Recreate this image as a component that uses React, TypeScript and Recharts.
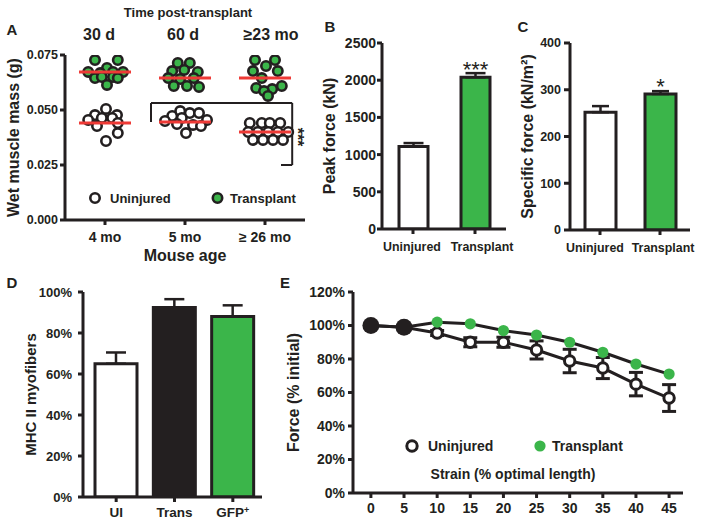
import React from "react";
import {
  ScatterChart,
  Scatter,
  BarChart,
  Bar,
  LineChart,
  Line,
  XAxis,
  YAxis,
  ErrorBar,
  Cell,
  LabelList,
  ReferenceLine,
} from "recharts";

const INK = "#231f20";
const GREEN = "#3bb54a";
const RED = "#ee3a36";
const FONT = '"Liberation Sans", Arial, Helvetica, sans-serif';

// ---- A: wet muscle mass (g), each dot as [jitter, mass]
const ageLabels = ["4 mo", "5 mo", "≥ 26 mo"];
const postLabels = ["30 d", "60 d", "≥23 mo"];

const trans30 = [
  [-0.125, 0.0727], [0.16, 0.0727], [0.025, 0.0691], [-0.21, 0.0673], [-0.06, 0.0668], [0.1, 0.0673],
  [0.225, 0.0673], [-0.125, 0.0645], [-0.04, 0.065], [0.1, 0.065], [0.16, 0.0645], [0.025, 0.0614],
];
const uninj30 = [
  [-0.125, 0.0477], [0.0125, 0.0505], [0.15, 0.0477], [-0.21, 0.0455], [-0.04, 0.0464], [0.09, 0.0464],
  [0.16, 0.0441], [-0.1, 0.0427], [0.16, 0.0395], [0.0125, 0.0359],
];
const trans60 = [
  [-0.09, 0.0714], [0.06, 0.0714], [-0.16, 0.0677], [-0.01, 0.0682], [0.16, 0.0673], [-0.21, 0.0645],
  [-0.06, 0.0641], [0.11, 0.0645], [-0.14, 0.0609], [0.025, 0.0609], [0.175, 0.0605],
];
const uninj60 = [
  [-0.16, 0.0473], [-0.06, 0.0495], [0.06, 0.0486], [0.175, 0.0486], [-0.25, 0.045], [-0.04, 0.0464],
  [0.275, 0.0455], [-0.1, 0.0436], [0.1, 0.0432], [0.2, 0.0427], [0.0125, 0.0395],
];
const trans23 = [
  [-0.125, 0.0727], [0.125, 0.0727], [0.0125, 0.07], [-0.15, 0.0677], [0.16, 0.0677], [-0.04, 0.0645],
  [-0.11, 0.06], [0.21, 0.0609], [0.09, 0.0595], [-0.0125, 0.0586], [0.0375, 0.0564],
];
const uninj23 = [
  [-0.19, 0.0441], [-0.04, 0.0441], [0.06, 0.0441], [0.19, 0.0441],
  [-0.21, 0.04], [-0.09, 0.04], [0.04, 0.04], [0.16, 0.04], [0.29, 0.04],
  [-0.15, 0.0364], [-0.025, 0.0364], [0.1, 0.0364], [0.225, 0.0364],
];
const medianUninj = [0.0441, 0.0445, 0.04];
const medianTrans = [0.0673, 0.0645, 0.0645];

// ---- B / C: force
const forceGroups = ["Uninjured", "Transplant"];
const peakForce = [1110, 2040];
const peakErr = [45, 55];
const peakSig = ["", "***"];
const specForce = [252, 291];
const specErr = [13, 6];
const specSig = ["", "*"];

// ---- D: MHC II myofibers (%)
const mhcGroups = ["UI", "Trans", "GFP+"];
const mhc = [65, 92.5, 88];
const mhcErr = [5.5, 4, 5.5];

// ---- E: force (% initial) vs strain
const strain = [0, 5, 10, 15, 20, 25, 30, 35, 40, 45];
const forceUninj = [100, 99, 95.5, 90, 90, 85.4, 78.8, 74.6, 65, 56.7];
const forceUninjErr = [0, 0, 1.5, 2.7, 3, 5.4, 7, 6.3, 7, 8];
const forceTrans = [100, 99, 102, 101, 97, 94.3, 90, 84, 77, 71];

const toPoints = (groups: number[][][]) =>
  groups.flatMap((g, gi) => g.map(([off, m]) => ({ x: gi + 0.5 + off, y: m })));

const uninjPts = toPoints([uninj30, uninj60, uninj23]);
const transPts = toPoints([trans30, trans60, trans23]);
const medianPts = [...medianUninj, ...medianTrans].map((m, i) => ({ x: (i % 3) + 0.5, y: m }));

const bracket = [
  [{ x: 1.075, y: 0.0445 }, { x: 1.075, y: 0.0532 }],
  [{ x: 1.075, y: 0.0532 }, { x: 2.84, y: 0.0532 }],
  [{ x: 2.84, y: 0.0532 }, { x: 2.84, y: 0.025 }],
  [{ x: 2.84, y: 0.025 }, { x: 2.7, y: 0.025 }],
];

const peakData = forceGroups.map((name, i) => ({ name, value: peakForce[i], err: [0, peakErr[i]], sig: peakSig[i] }));
const specData = forceGroups.map((name, i) => ({ name, value: specForce[i], err: [0, specErr[i]], sig: specSig[i] }));
const mhcData = mhcGroups.map((name, i) => ({ name, value: mhc[i], err: [0, mhcErr[i]] }));
const strainData = strain.map((s, i) => ({
  strain: s,
  uninj: forceUninj[i],
  err: forceUninjErr[i],
  trans: forceTrans[i],
}));

const axisLine = { stroke: INK, strokeWidth: 3 };
const tickLine = { stroke: INK, strokeWidth: 3 };
const tick = (size: number) => ({ fill: INK, fontSize: size, fontWeight: 700 });
const yLabel = (value: string, offset: number, size = 16) => ({
  value,
  angle: -90,
  position: "insideLeft" as const,
  offset,
  style: { textAnchor: "middle", fill: INK, fontSize: size, fontWeight: 700 },
});

const openDot = (p: any) => (
  <circle key={`u${p.index}`} cx={p.cx} cy={p.cy} r={4.7} fill="#fff" stroke={INK} strokeWidth={2.6} />
);
const greenDot = (p: any) => (
  <circle key={`t${p.index}`} cx={p.cx} cy={p.cy} r={4.7} fill={GREEN} stroke={INK} strokeWidth={2.6} />
);
const medianLine = (p: any) => (
  <line key={`m${p.index}`} x1={p.cx - 26} x2={p.cx + 26} y1={p.cy} y2={p.cy} stroke={RED} strokeWidth={3} />
);

const strainOpenDot = (p: any) => (
  <circle key={`su${p.index}`} cx={p.cx} cy={p.cy} r={5.2} fill="#fff" stroke={INK} strokeWidth={3} />
);
const strainTransDot = (p: any) => {
  // where both groups sit on the same value the marker is black
  const overlap = p.payload.trans === p.payload.uninj;
  return (
    <circle
      key={`st${p.index}`}
      cx={p.cx}
      cy={p.cy}
      r={overlap ? 8.5 : 5.6}
      fill={overlap ? INK : GREEN}
    />
  );
};

// group labels under the bars sit a little apart from their ticks
const spreadTick = (shift: number[]) => (p: any) => (
  <text
    x={p.x + (shift[p.index] ?? 0)}
    y={p.y}
    dy="0.71em"
    textAnchor="middle"
    fill={INK}
    fontSize={12.4}
    fontWeight={700}
  >
    {p.payload.value}
  </text>
);

const mhcTick = (p: any) => {
  const label: string = p.payload.value;
  const sup = label.endsWith("+");
  return (
    <text x={p.x} y={p.y} dy="0.71em" textAnchor="middle" fill={INK} fontSize={13.5} fontWeight={700}>
      {sup ? label.slice(0, -1) : label}
      {sup && (
        <tspan dy="-0.45em" fontSize={9}>
          +
        </tspan>
      )}
    </text>
  );
};

function PanelA() {
  return (
    <ScatterChart width={320} height={270} margin={{ top: 55, right: 15, bottom: 5, left: 0 }}>
      <XAxis
        type="number"
        dataKey="x"
        domain={[0, 3]}
        allowDataOverflow
        ticks={[0.5, 1.5, 2.5]}
        interval={0}
        tickFormatter={(v) => ageLabels[Math.floor(v)]}
        height={45}
        axisLine={axisLine}
        tickLine={tickLine}
        tickSize={5}
        tickMargin={7}
        tick={tick(14)}
        label={{ value: "Mouse age", position: "insideBottom", offset: 4, style: { fill: INK, fontSize: 16, fontWeight: 700 } }}
      />
      <YAxis
        type="number"
        dataKey="y"
        domain={[0, 0.075]}
        allowDataOverflow
        ticks={[0, 0.025, 0.05, 0.075]}
        interval={0}
        tickFormatter={(v) => v.toFixed(3)}
        width={65}
        axisLine={axisLine}
        tickLine={tickLine}
        tickSize={5}
        tickMargin={2}
        tick={tick(12.5)}
        label={yLabel("Wet muscle mass (g)", 13)}
      />
      {bracket.map((seg, i) => (
        <ReferenceLine key={i} segment={seg} stroke={INK} strokeWidth={2} />
      ))}
      <Scatter data={uninjPts} shape={openDot} isAnimationActive={false} />
      <Scatter data={transPts} shape={greenDot} isAnimationActive={false} />
      <Scatter data={medianPts} shape={medianLine} isAnimationActive={false} />
    </ScatterChart>
  );
}

function ForceBars(props: {
  data: any[];
  width: number;
  yWidth: number;
  right: number;
  xHeight: number;
  domain: number[];
  ticks: number[];
  label: string;
  labelOffset: number;
  tickSize: number;
  tickMargin: number;
  tickFont: number;
  barSize: number;
  whisker: number;
  labelShift: number[];
}) {
  const fills = ["#fff", GREEN];
  return (
    <BarChart width={props.width} height={260} data={props.data} margin={{ top: 43, right: props.right, bottom: 0, left: 0 }}>
      <XAxis
        dataKey="name"
        height={props.xHeight}
        interval={0}
        axisLine={axisLine}
        tickLine={tickLine}
        tickSize={5}
        tickMargin={8}
        tick={spreadTick(props.labelShift)}
      />
      <YAxis
        type="number"
        domain={props.domain}
        allowDataOverflow
        ticks={props.ticks}
        interval={0}
        width={props.yWidth}
        axisLine={axisLine}
        tickLine={tickLine}
        tickSize={props.tickSize}
        tickMargin={props.tickMargin}
        tick={tick(props.tickFont)}
        label={yLabel(props.label, props.labelOffset)}
      />
      <Bar dataKey="value" barSize={props.barSize} stroke={INK} strokeWidth={3} isAnimationActive={false}>
        {props.data.map((d, i) => (
          <Cell key={d.name} fill={fills[i]} />
        ))}
        <ErrorBar dataKey="err" direction="y" width={props.whisker} stroke={INK} strokeWidth={2.5} isAnimationActive={false} />
        <LabelList dataKey="sig" position="top" offset={0} style={{ fill: INK, fontSize: 22, fontWeight: 400 }} />
      </Bar>
    </BarChart>
  );
}

function PanelD() {
  const fills = ["#fff", INK, GREEN];
  return (
    <BarChart width={265} height={244} data={mhcData} margin={{ top: 12, right: 3, bottom: 0, left: 0 }}>
      <XAxis
        dataKey="name"
        height={27}
        interval={0}
        padding={{ left: 4, right: 0 }}
        axisLine={axisLine}
        tickLine={tickLine}
        tickSize={5}
        tickMargin={5}
        tick={mhcTick}
      />
      <YAxis
        type="number"
        domain={[0, 100]}
        allowDataOverflow
        ticks={[0, 20, 40, 60, 80, 100]}
        interval={0}
        tickFormatter={(v) => `${v}%`}
        width={83}
        axisLine={axisLine}
        tickLine={tickLine}
        tickSize={5}
        tickMargin={6}
        tick={tick(13)}
        label={yLabel("MHC II myofibers", 31, 15)}
      />
      <Bar dataKey="value" barSize={42} stroke={INK} strokeWidth={3} isAnimationActive={false}>
        {mhcData.map((d, i) => (
          <Cell key={d.name} fill={fills[i]} />
        ))}
        <ErrorBar dataKey="err" direction="y" width={10} stroke={INK} strokeWidth={2.5} isAnimationActive={false} />
      </Bar>
    </BarChart>
  );
}

function PanelE() {
  return (
    <LineChart width={461} height={244} data={strainData} margin={{ top: 12, right: 18, bottom: 0, left: 0 }}>
      <XAxis
        type="number"
        dataKey="strain"
        domain={[-2.7, 47.1]}
        allowDataOverflow
        ticks={strain}
        interval={0}
        height={31}
        axisLine={axisLine}
        tickLine={tickLine}
        tickSize={5}
        tickMargin={5}
        tick={tick(14)}
      />
      <YAxis
        type="number"
        domain={[0, 120]}
        allowDataOverflow
        ticks={[0, 20, 40, 60, 80, 100, 120]}
        interval={0}
        tickFormatter={(v) => `${v}%`}
        width={113}
        axisLine={axisLine}
        tickLine={tickLine}
        tickSize={5}
        tickMargin={3}
        tick={tick(14)}
        label={yLabel("Force (% initial)", 53)}
      />
      <Line type="linear" dataKey="uninj" stroke={INK} strokeWidth={3} dot={strainOpenDot} isAnimationActive={false}>
        <ErrorBar dataKey="err" direction="y" width={7} stroke={INK} strokeWidth={3} isAnimationActive={false} />
      </Line>
      <Line type="linear" dataKey="trans" stroke={INK} strokeWidth={3} dot={strainTransDot} isAnimationActive={false} />
    </LineChart>
  );
}

const txt = { fill: INK, fontWeight: 700 } as const;

export default function App() {
  return (
    <div
      style={{
        position: "absolute",
        left: 0,
        top: 0,
        width: 701,
        height: 524,
        background: "#fff",
        fontFamily: FONT,
        overflow: "hidden",
      }}
    >
      <div style={{ position: "absolute", left: 0, top: 0 }}>
        <PanelA />
      </div>
      <div style={{ position: "absolute", left: 300, top: 0 }}>
        <ForceBars
          data={peakData}
          width={215}
          yWidth={82}
          right={9}
          xHeight={31}
          domain={[0, 2500]}
          ticks={[0, 500, 1000, 1500, 2000, 2500]}
          label="Peak force (kN)"
          labelOffset={29}
          tickSize={5}
          tickMargin={1}
          tickFont={14}
          barSize={29}
          whisker={10}
          labelShift={[-1, 7]}
        />
      </div>
      <div style={{ position: "absolute", left: 500, top: 0 }}>
        <ForceBars
          data={specData}
          width={200}
          yWidth={70}
          right={10}
          xHeight={30}
          domain={[0, 400]}
          ticks={[0, 100, 200, 300, 400]}
          label="Specific force (kN/m²)"
          labelOffset={27}
          tickSize={6}
          tickMargin={3}
          tickFont={12.5}
          barSize={31}
          whisker={8.5}
          labelShift={[-5, 3]}
        />
      </div>
      <div style={{ position: "absolute", left: 0, top: 280 }}>
        <PanelD />
      </div>
      <div style={{ position: "absolute", left: 240, top: 280 }}>
        <PanelE />
      </div>

      <svg width={701} height={524} style={{ position: "absolute", left: 0, top: 0, pointerEvents: "none" }}>
        <text x={188} y={16.5} textAnchor="middle" fontSize={13} {...txt}>
          Time post-transplant
        </text>
        {postLabels.map((t, i) => (
          <text key={t} x={[99, 183, 271][i]} y={40} textAnchor="middle" fontSize={16} {...txt}>
            {t}
          </text>
        ))}
        <text x={12} y={35} textAnchor="middle" fontSize={15} {...txt}>A</text>
        <text x={330} y={32} textAnchor="middle" fontSize={15} {...txt}>B</text>
        <text x={523} y={32} textAnchor="middle" fontSize={15} {...txt}>C</text>
        <text x={12} y={288} textAnchor="middle" fontSize={15} {...txt}>D</text>
        <text x={285} y={288} textAnchor="middle" fontSize={15} {...txt}>E</text>

        <text x={301} y={137} dy="0.57em" transform="rotate(90 301 137)" textAnchor="middle" fontSize={16} {...txt}>
          ***
        </text>

        {/* legend A */}
        <circle cx={95} cy={198} r={4.7} fill="#fff" stroke={INK} strokeWidth={2.6} />
        <text x={110} y={202.5} fontSize={13} {...txt}>Uninjured</text>
        <circle cx={217.5} cy={198} r={4.7} fill={GREEN} stroke={INK} strokeWidth={2.6} />
        <text x={230} y={202.5} fontSize={13} {...txt}>Transplant</text>

        {/* legend E */}
        <circle cx={412} cy={446} r={5.2} fill="#fff" stroke={INK} strokeWidth={3} />
        <text x={428} y={451} fontSize={14} {...txt}>Uninjured</text>
        <circle cx={540} cy={446} r={5.6} fill={GREEN} />
        <text x={552} y={451} fontSize={14} {...txt}>Transplant</text>
        <text x={513} y={479} textAnchor="middle" fontSize={14} {...txt}>
          Strain (% optimal length)
        </text>
      </svg>
    </div>
  );
}
